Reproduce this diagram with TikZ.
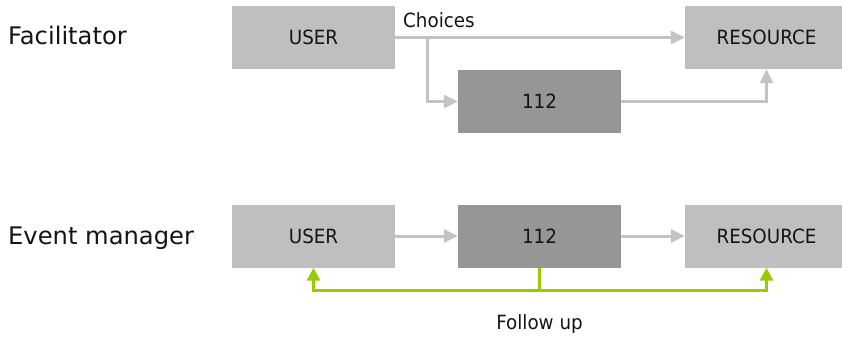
\documentclass[tikz,border=0pt]{standalone}
\usepackage{fontspec}
\setmainfont{DejaVu Sans}
\newfontfamily\boxfont[FakeStretch=0.934]{DejaVu Sans}
\usetikzlibrary{arrows.meta}
\definecolor{boxlight}{HTML}{BFBFBF}
\definecolor{boxdark}{HTML}{969696}
\definecolor{flowgray}{HTML}{C3C3C3}
\definecolor{followgreen}{HTML}{99CC00}
\definecolor{inktext}{HTML}{141414}
\begin{document}
\begin{tikzpicture}[x=1pt,y=-1pt,
  rolelabel/.style={anchor=base west,inner sep=0pt,text=inktext,font=\fontsize{24.2}{28}\selectfont},
  actor/.style={fill=boxlight,draw=none,minimum width=163pt,minimum height=63pt,inner sep=0pt,
    text=inktext,font=\boxfont\fontsize{19.6}{23}\selectfont},
  hub/.style={actor,fill=boxdark},
  flowlabel/.style={inner sep=0pt,text=inktext,font=\boxfont\fontsize{19.6}{23}\selectfont},
  flow/.style={draw=flowgray,line width=3pt,-{Triangle[length=14pt,width=13pt]}},
  followline/.style={draw=followgreen,line width=3pt},
  follow/.style={followline,-{Triangle[length=13pt,width=13pt]}}]
  \useasboundingbox (0,0) rectangle (842,337);
  \clip (0,0) rectangle (842,337);

  % role names
  \node[rolelabel] (facl) at (8,44.3) {Facilitator};
  \node[rolelabel] (evml) at (8,244) {Event manager};

  % facilitator chain
  \node[actor] (u1) at (313.5,37.5) {USER};
  \node[hub]   (d1) at (539.5,101.5) {112};
  \node[actor] (r1) at (766.5,37.5) {RESOURCE};
  \coordinate (split) at (427,37.5);
  \draw[flow] (u1.east) -- (r1.west);
  \draw[flow] (split) |- (d1.west);
  \draw[flow] (d1.east) -| (r1.south);
  \node[flowlabel,anchor=base west] (choices) at (403,27.5) {Choices};

  % event manager chain
  \node[actor] (u2) at (313.5,236) {USER};
  \node[hub]   (d2) at (539.5,236) {112};
  \node[actor] (r2) at (766.5,236) {RESOURCE};
  \draw[flow] (u2.east) -- (d2.west);
  \draw[flow] (d2.east) -- (r2.west);

  % follow-up loop
  \coordinate (fu) at (539.5,290);
  \draw[followline] (d2.south) -- (fu);
  \draw[follow] (fu) -| (u2.south);
  \draw[follow] (fu) -| (r2.south);
  \node[flowlabel,anchor=base] (follow) at (539.5,329) {Follow up};
\end{tikzpicture}
\end{document}
